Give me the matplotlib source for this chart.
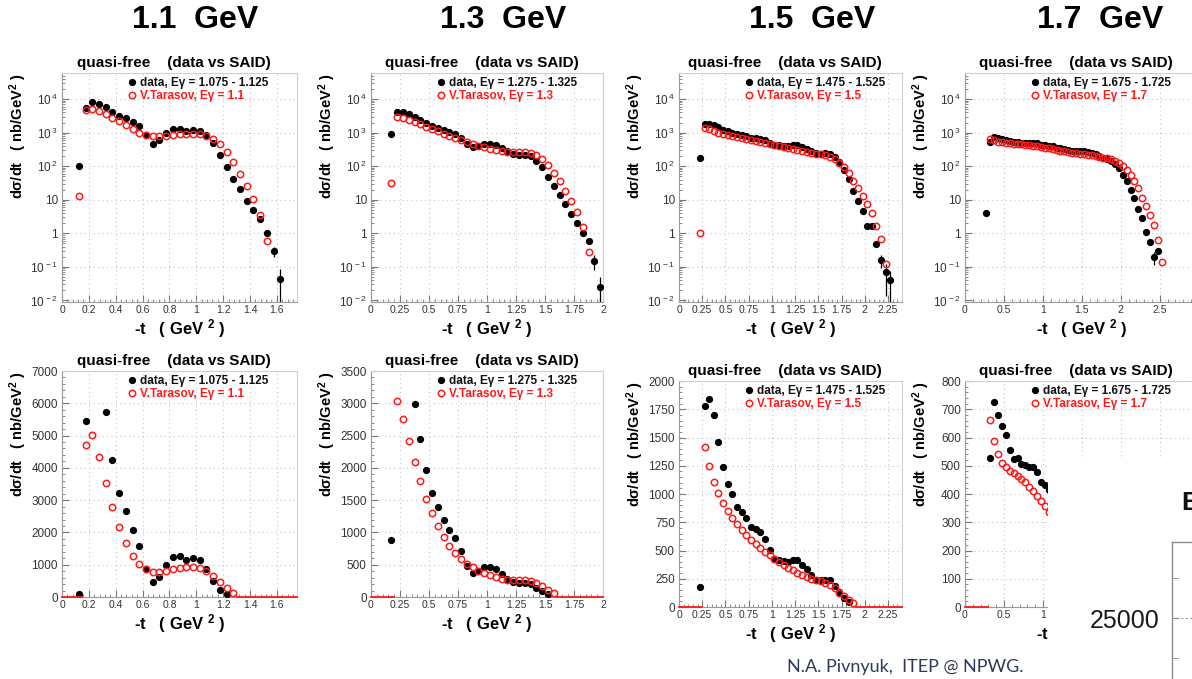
import numpy as np
import matplotlib
matplotlib.use('agg')
import matplotlib.pyplot as plt
from matplotlib.patches import Rectangle
from matplotlib.ticker import (FuncFormatter, MultipleLocator, AutoMinorLocator,
                               LogLocator, NullFormatter)
from matplotlib.lines import Line2D

plt.rcParams['font.family'] = ['Liberation Sans', 'DejaVu Sans']
plt.rcParams['mathtext.fontset'] = 'custom'
plt.rcParams['mathtext.rm'] = 'Liberation Sans'
plt.rcParams['mathtext.bf'] = 'Liberation Sans:bold'
plt.rcParams['mathtext.it'] = 'Liberation Sans:italic'

W, H = 1192, 679
BIN = 0.05

# beam energies and the photon energy window of the data
energies = ['1.1', '1.3', '1.5', '1.7']
data_windows = ['1.075 - 1.125', '1.275 - 1.325', '1.475 - 1.525', '1.675 - 1.725']

# d(sigma)/dt, nb/GeV^2, bins of 0.05 GeV^2 in -t
# 1.1 GeV
t0_data_11 = 0.125
data_11 = [100, 5450, 8000, 7300, 5720, 4250, 3220, 2650, 2090, 1590,
           870, 450, 620, 980, 1250, 1270, 1160, 1210, 1160, 880,
           490, 210, 93, 43, 21, 9.4, 4.9, 2.7, 1.0, 0.30, 0.043]
err_tail_11 = [0.1, 0.043]
t0_model_11 = 0.125
model_11 = [13, 4700, 5020, 4340, 3540, 2800, 2170, 1660, 1280, 1010,
            880, 785, 775, 805, 867, 900, 920, 920, 890, 805,
            650, 455, 268, 131, 58, 26, 10.3, 3.5, 0.60]

# 1.3 GeV
t0_data_13 = 0.175
data_13 = [890, 4100, 4000, 3700, 2990, 2440, 1970, 1606, 1389, 1187,
           1038, 909, 718, 475, 367, 398, 465, 470, 428, 356,
           284, 232, 222, 217, 196, 140, 98, 48, 26, 14,
           7.4, 3.9, 2.0, 1.0, 0.59, 0.15, 0.026]
err_tail_13 = [0.07, 0.024]
t0_model_13 = 0.175
model_13 = [31, 3030, 2760, 2410, 2086, 1792, 1523, 1296, 1095, 934,
            795, 681, 589, 516, 460, 403, 367, 336, 310, 284,
            268, 258, 258, 258, 248, 217, 163, 107, 65, 36,
            18, 9.3, 4.2, 1.5, 0.28]

# 1.5 GeV
t0_data_15 = 0.225
data_15 = [173, 1776, 1841, 1700, 1459, 1241, 1091, 997, 888, 844,
           785, 712, 688, 665, 603, 506, 424, 418, 409, 397,
           420, 415, 373, 332, 285, 241, 235, 241, 235, 188,
           130, 78, 41, 18, 9.1, 4.5, 1.66, 1.66, 0.48, 0.16,
           0.069, 0.041]
err_tail_15 = [0.07, 0.055, 0.035]
t0_model_15 = 0.225
model_15 = [1.0, 1418, 1247, 1109, 1006, 921, 850, 785, 735, 682,
            638, 597, 559, 523, 488, 456, 426, 397, 371, 344,
            324, 300, 282, 265, 250, 235, 226, 212, 194, 168,
            124, 93, 64, 37, 22, 13, 7.4, 4.0, 1.7, 0.66,
            0.126]

# 1.7 GeV
t0_data_17 = 0.275
data_17 = [4.1, 526, 727, 681, 640, 609, 555, 524, 527, 507,
           501, 496, 495, 478, 444, 433, 414, 390, 360, 340,
           320, 300, 290, 285, 280, 275, 265, 245, 225, 200,
           180, 160, 140, 120, 88, 55, 36, 19.5, 11, 5.2,
           2.9, 1.1, 0.55, 0.20, 0.29]
err_tail_17 = [0.085, 0.05]
t0_model_17 = 0.325
model_17 = [662, 588, 540, 511, 494, 482, 475, 464, 453, 442,
            426, 409, 392, 375, 358, 338, 320, 305, 290, 278,
            265, 255, 245, 235, 228, 220, 210, 200, 190, 180,
            170, 160, 148, 128, 102, 78, 55, 36, 22, 11.5,
            6.5, 3.5, 1.8, 0.63, 0.14]

sets = [
    (t0_data_11, data_11, err_tail_11, t0_model_11, model_11),
    (t0_data_13, data_13, err_tail_13, t0_model_13, model_13),
    (t0_data_15, data_15, err_tail_15, t0_model_15, model_15),
    (t0_data_17, data_17, err_tail_17, t0_model_17, model_17),
]

# axis ranges and ticks of each column
x_max = [1.75, 2.0, 2.4, 2.99]
x_step = [0.2, 0.25, 0.25, 0.5]
lin_ymax = [7000, 3500, 2000, 800]
lin_ystep = [1000, 500, 250, 100]

# frames in pixels: left, top, right, bottom
top_boxes = [(62, 73, 297, 302), (371, 73, 603, 302),
             (679, 73, 902, 302), (965, 73, 1198, 302)]
bot_boxes = [(62, 371, 297, 597), (371, 371, 603, 597),
             (679, 381, 902, 607), (965, 381, 1198, 607)]
header_x = [195, 503, 812, 1100]

RED = '#ff1a1a'
TICK_COLOR = '#333333'
FRAME_COLOR = '#9a9a9a'
bold = dict(fontweight='bold')

fig = plt.figure(figsize=(W / 100, H / 100), dpi=100)
fig.patch.set_facecolor('white')


def add_px_axes(box):
    l, t, r, b = box
    return fig.add_axes([l / W, 1 - b / H, (r - l) / W, (b - t) / H])


def log_label(v, pos):
    e = int(round(np.log10(v)))
    if e == 0:
        return '1'
    if e == 1:
        return '10'
    return r'$\mathregular{10^{\,%d}}$' % e


def style_axes(ax, box, col, log):
    w = box[2] - box[0]
    h = box[3] - box[1]
    ax.set_xlim(0, x_max[col])
    ax.xaxis.set_major_locator(MultipleLocator(x_step[col]))
    ax.xaxis.set_minor_locator(AutoMinorLocator(5))
    ax.xaxis.set_major_formatter(FuncFormatter(lambda v, p: '%g' % round(v, 3)))
    if log:
        ax.set_yscale('log')
        ax.set_ylim(0.009, 6e4)
        ax.yaxis.set_major_locator(LogLocator(base=10, numticks=12))
        ax.yaxis.set_minor_locator(LogLocator(base=10, subs=np.arange(2, 10), numticks=12))
        ax.yaxis.set_minor_formatter(NullFormatter())
        ax.yaxis.set_major_formatter(FuncFormatter(log_label))
    else:
        ax.set_ylim(0, lin_ymax[col])
        ax.yaxis.set_major_locator(MultipleLocator(lin_ystep[col]))
        ax.yaxis.set_minor_locator(AutoMinorLocator(5))
    ax.grid(True, which='major', linestyle=(0, (1, 3)), color='#c4c4c4', lw=0.8)
    ax.tick_params(which='both', direction='in', top=False, right=False,
                   colors='#777777', labelcolor=TICK_COLOR)
    ax.tick_params(which='major', length=5)
    ax.tick_params(which='minor', length=2.5)
    ax.tick_params(axis='x', labelsize=7.5, pad=2)
    ax.tick_params(axis='y', labelsize=8.5, pad=3)
    for s in ax.spines.values():
        s.set_color(FRAME_COLOR)
        s.set_linewidth(0.8)
    ax.spines['top'].set_color('#cfcfcf')
    ax.spines['right'].set_color('#cfcfcf')

    ax.set_xlabel(r'-t   ( GeV $^{\mathbf{2}}$ )', fontsize=12, va='center', **bold)
    ax.xaxis.set_label_coords(0.5, -27 / h)
    ax.set_ylabel(r'd$\mathbf{\sigma}$/dt   ( nb/GeV$^{\mathbf{2}}$ )',
                  fontsize=10.5, loc='top', **bold)
    ax.yaxis.label.set_va('center')
    ax.yaxis.set_label_coords(-44 / w, 1.0)

    ax.annotate('quasi-free    (data vs SAID)', xy=(0.5, 1.0), xycoords='axes fraction',
                xytext=(-4, 7.5), textcoords='offset points', ha='center', va='center',
                fontsize=11, **bold)

    handles = [Line2D([], [], ls='none', marker='o', color='k', ms=4.2),
               Line2D([], [], ls='none', marker='o', mfc='none', mec=RED, mew=1.1, ms=4.6)]
    labels = ['data, E\u03b3 = ' + data_windows[col],
              'V.Tarasov, E\u03b3 = ' + energies[col]]
    ax.legend(handles, labels, loc='upper left', bbox_to_anchor=(66 / w, 1 - 4 / h),
              frameon=False, borderpad=0, borderaxespad=0, handlelength=0.6,
              handletextpad=0.45, labelspacing=0.12, labelcolor=['#111111', RED],
              prop={'weight': 'bold', 'size': 8.5})


for col, (t0d, dv, etail, t0m, mv) in enumerate(sets):
    dv = np.array(dv, dtype=float)
    mv = np.array(mv, dtype=float)
    td = t0d + BIN * np.arange(len(dv))
    tm = t0m + BIN * np.arange(len(mv))
    err = np.zeros(len(dv))
    err[-len(etail):] = etail

    # log-scale view
    ax = add_px_axes(top_boxes[col])
    style_axes(ax, top_boxes[col], col, log=True)
    has_err = err > 0
    lower = np.minimum(err, dv * 0.9999)
    ax.errorbar(td[has_err], dv[has_err], yerr=[lower[has_err], err[has_err]],
                fmt='none', ecolor='k', elinewidth=0.9, zorder=3)
    ax.plot(td, dv, ls='none', marker='o', color='k', ms=4.2, zorder=4)
    ax.plot(tm, mv, ls='none', marker='o', mfc='none', mec=RED, mew=1.1, ms=4.6, zorder=5)

    # linear-scale view: markers sitting on the axis are not drawn,
    # the empty part of the model histogram shows as a line at zero
    ax = add_px_axes(bot_boxes[col])
    style_axes(ax, bot_boxes[col], col, log=False)
    cut = 0.012 * lin_ymax[col]
    shown_d = dv >= cut
    shown_m = mv >= cut
    ax.plot(td[shown_d], dv[shown_d], ls='none', marker='o', color='k', ms=4.2, zorder=4)
    ax.plot(tm[shown_m], mv[shown_m], ls='none', marker='o', mfc='none', mec=RED,
            mew=1.1, ms=4.6, zorder=5)
    tm_on = tm[shown_m]
    ax.plot([0, tm_on[0] - BIN / 2], [0, 0], color=RED, lw=1.3, zorder=6, clip_on=False)
    ax.plot([tm_on[-1] + BIN / 2, x_max[col]], [0, 0], color=RED, lw=1.3, zorder=6,
            clip_on=False)

    fig.text(header_x[col] / W, 1 - 20 / H, energies[col] + '  GeV', ha='center',
             va='center', fontsize=23, **bold)

# next slide element overlapping the corner
fig.add_artist(Rectangle((1048 / W, 0), (W - 1048) / W, (H - 458) / H,
                         transform=fig.transFigure, facecolor='white',
                         edgecolor='none', zorder=5))
fig.text(1181 / W, 1 - 503 / H, 'B', ha='left', va='center', fontsize=19,
         color='#111111', zorder=6, **bold)
axp = fig.add_axes([1172 / W, 0, 160 / W, (H - 542) / H], zorder=6)
axp.set_facecolor('white')
axp.set_ylim(21190, 29750)
axp.set_xlim(0, 1)
axp.yaxis.set_major_locator(MultipleLocator(5000))
axp.yaxis.set_minor_locator(MultipleLocator(2500))
axp.set_xticks([])
axp.tick_params(axis='y', which='both', direction='in', colors='#888888',
                labelcolor='#1a1a1a', labelsize=18, pad=9)
axp.tick_params(axis='y', which='major', length=4)
axp.tick_params(axis='y', which='minor', length=4)
axp.grid(axis='y', which='major', linestyle=(0, (2, 2)), color='#9a9a9a', lw=0.8)
for side in ['right', 'bottom']:
    axp.spines[side].set_visible(False)
for side in ['left', 'top']:
    axp.spines[side].set_color('#8a8a8a')
    axp.spines[side].set_linewidth(1.0)

fig.text(787 / W, 1 - 667 / H, 'N.A. Pivnyuk,  ITEP @ NPWG.', ha='left', va='center',
         fontsize=13, color='#2d3b58', family=['Lato', 'DejaVu Sans'], zorder=7)

fig.savefig('out.png', dpi=100, facecolor='white')
